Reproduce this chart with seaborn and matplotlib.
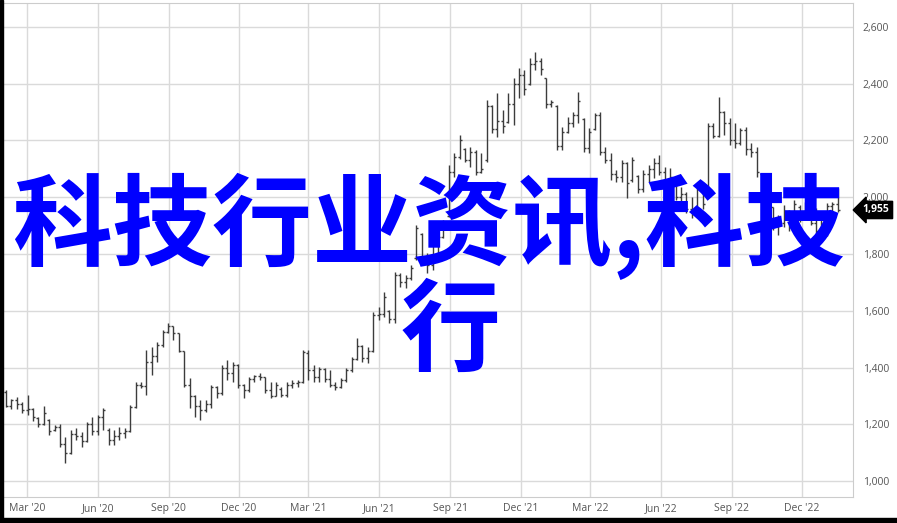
import matplotlib
matplotlib.use("Agg")
import matplotlib.pyplot as plt
import matplotlib.dates as mdates
from matplotlib.patches import Rectangle
import pandas as pd
import seaborn as sns

# weekly OHLC
start_week = "2020-02-03"
opens = [1315, 1265, 1285, 1270, 1250, 1255, 1222, 1200, 1215, 1180,
         1190, 1130, 1100, 1165, 1160, 1140, 1200, 1175, 1225, 1180,
         1145, 1160, 1170, 1175, 1260, 1340, 1335, 1420, 1440, 1480,
         1525, 1545, 1520, 1460, 1340, 1300, 1265, 1250, 1270, 1330,
         1310, 1400, 1380, 1410, 1340, 1320, 1360, 1370, 1365, 1320,
         1300, 1325, 1305, 1340, 1345, 1350, 1450, 1390, 1365, 1395,
         1360, 1340, 1330, 1355, 1390, 1430, 1475, 1435, 1460, 1585,
         1590, 1600, 1570, 1725, 1700, 1715, 1785, 1870, 1790, 1760,
         1840, 1860, 1935, 2090, 2140, 2170, 2130, 2160, 2090, 2130,
         2320, 2240, 2270, 2265, 2330, 2400, 2430, 2400, 2470, 2480,
         2420, 2330, 2320, 2180, 2230, 2260, 2290, 2275, 2175, 2240,
         2290, 2160, 2130, 2080, 2070, 2120, 2060, 2075, 2030, 2080,
         2100, 2120, 2090, 2040, 2065, 2000, 2010, 1960, 1960, 2030,
         2035, 2250, 2215, 2300, 2260, 2200, 2190, 2235, 2170, 2160,
         2080, 2025, 1965, 1900, 1910, 1950, 1905, 1965, 1950, 1960,
         1910, 1880, 1870, 1970, 1975]
highs = [1321, 1289, 1296, 1278, 1303, 1258, 1225, 1264, 1218, 1197,
         1201, 1155, 1180, 1187, 1173, 1208, 1226, 1233, 1257, 1187,
         1180, 1190, 1187, 1268, 1349, 1349, 1462, 1472, 1490, 1532,
         1557, 1548, 1522, 1460, 1363, 1303, 1285, 1285, 1338, 1335,
         1409, 1426, 1419, 1412, 1342, 1366, 1374, 1381, 1368, 1349,
         1349, 1331, 1349, 1356, 1356, 1462, 1462, 1409, 1402, 1398,
         1391, 1349, 1363, 1398, 1437, 1504, 1479, 1472, 1596, 1613,
         1666, 1603, 1737, 1733, 1726, 1761, 1902, 1874, 1803, 1849,
         1867, 1920, 2114, 2156, 2219, 2173, 2177, 2166, 2156, 2343,
         2325, 2367, 2307, 2367, 2420, 2455, 2448, 2491, 2512, 2491,
         2420, 2343, 2325, 2248, 2283, 2300, 2370, 2279, 2244, 2297,
         2300, 2177, 2156, 2096, 2131, 2124, 2142, 2078, 2096, 2114,
         2138, 2149, 2107, 2103, 2068, 2036, 2018, 2001, 2043, 2035,
         2262, 2262, 2353, 2305, 2279, 2262, 2244, 2248, 2191, 2177,
         2085, 2030, 1965, 1937, 1973, 1955, 1990, 1973, 1983, 1983,
         1962, 1944, 1980, 1983, 2033]
lows = [1261, 1254, 1254, 1240, 1233, 1211, 1190, 1198, 1162, 1175,
        1120, 1063, 1095, 1144, 1120, 1138, 1162, 1162, 1180, 1127,
        1127, 1144, 1152, 1172, 1257, 1328, 1303, 1374, 1419, 1472,
        1520, 1497, 1455, 1331, 1257, 1226, 1215, 1245, 1257, 1292,
        1305, 1356, 1349, 1328, 1292, 1315, 1349, 1356, 1310, 1292,
        1298, 1296, 1296, 1328, 1331, 1345, 1356, 1349, 1349, 1349,
        1331, 1321, 1328, 1350, 1385, 1425, 1419, 1416, 1455, 1567,
        1578, 1557, 1557, 1684, 1680, 1710, 1779, 1768, 1733, 1744,
        1803, 1855, 1930, 2071, 2135, 2124, 2107, 2078, 2085, 2124,
        2226, 2212, 2226, 2262, 2255, 2349, 2360, 2395, 2448, 2431,
        2314, 2318, 2166, 2166, 2226, 2248, 2262, 2159, 2156, 2237,
        2149, 2121, 2061, 2054, 2054, 1997, 2054, 2015, 2018, 2054,
        2068, 2078, 2018, 2033, 1990, 1980, 1944, 1927, 1955, 1960,
        2033, 2209, 2212, 2219, 2184, 2173, 2184, 2149, 2142, 2071,
        2025, 1955, 1885, 1867, 1895, 1880, 1895, 1913, 1925, 1902,
        1867, 1860, 1865, 1920, 1948]
closes = [1265, 1285, 1270, 1250, 1255, 1225, 1200, 1240, 1175, 1190,
          1130, 1100, 1165, 1160, 1140, 1200, 1175, 1225, 1250, 1145,
          1160, 1170, 1175, 1260, 1340, 1335, 1420, 1440, 1480, 1525,
          1545, 1520, 1460, 1340, 1300, 1265, 1250, 1270, 1330, 1310,
          1400, 1380, 1410, 1340, 1320, 1360, 1370, 1365, 1320, 1300,
          1340, 1305, 1340, 1345, 1350, 1455, 1390, 1365, 1395, 1360,
          1340, 1330, 1355, 1390, 1430, 1475, 1435, 1460, 1585, 1590,
          1650, 1570, 1725, 1700, 1715, 1750, 1890, 1790, 1760, 1840,
          1860, 1910, 2090, 2140, 2200, 2130, 2160, 2090, 2100, 2320,
          2240, 2270, 2250, 2330, 2400, 2430, 2380, 2470, 2480, 2450,
          2330, 2335, 2180, 2230, 2260, 2290, 2340, 2175, 2230, 2290,
          2160, 2130, 2080, 2070, 2120, 2050, 2130, 2030, 2080, 2100,
          2120, 2090, 2030, 2070, 2000, 2010, 1960, 1940, 2030, 1975,
          2250, 2215, 2300, 2260, 2200, 2190, 2235, 2170, 2160, 2090,
          2040, 1970, 1900, 1910, 1950, 1895, 1975, 1930, 1960, 1910,
          1880, 1870, 1970, 1975, 1955]

price_ticks = [1000, 1200, 1400, 1600, 1800, 2000, 2200, 2400, 2600]
last_label = "1,955"
overlay_line1 = "科技行业资讯,科技"
overlay_line2 = "行"

df = pd.DataFrame({
    "week": pd.date_range(start_week, periods=len(closes), freq="7D"),
    "open": opens, "high": highs, "low": lows, "close": closes,
})
x = mdates.date2num(df["week"])

sns.set_style("white")
plt.rcParams["font.family"] = ["Open Sans", "DejaVu Sans"]

fig = plt.figure(figsize=(8.97, 5.23), dpi=100)
ax = fig.add_axes([3 / 897, 26 / 523, 850 / 897, 494 / 523])

# OHLC bars
bar_color = "#3c3c3c"
ax.vlines(x, df["low"], df["high"], color=bar_color, lw=1, snap=True)
ax.hlines(df["open"], x - 2.6, x, color=bar_color, lw=1, snap=True)
ax.hlines(df["close"], x, x + 2.6, color=bar_color, lw=1, snap=True)

ax.set_xlim(mdates.datestr2num("2020-01-30"), mdates.datestr2num("2023-02-05"))
ax.set_ylim(944, 2684)

ax.grid(True, color="#dadada", lw=1)
ax.set_axisbelow(True)

ax.yaxis.tick_right()
ax.set_yticks(price_ticks)
ax.set_yticklabels([f"{v:,}" for v in price_ticks])
ax.tick_params(axis="y", length=0, pad=7, labelsize=7.5, labelcolor="#555555")

ax.xaxis.set_major_locator(mdates.MonthLocator(bymonth=(3, 6, 9, 12)))
ax.xaxis.set_major_formatter(mdates.DateFormatter("%b '%y"))
ax.tick_params(axis="x", length=4.5, color="#dadada", pad=0, labelsize=7.5,
               labelcolor="#555555")

for side in ["top", "right", "bottom"]:
    ax.spines[side].set_color("#cccccc")
ax.spines["left"].set_visible(False)

# last price tag
ax.annotate(last_label, xy=(1.0, closes[-1]), xycoords=("axes fraction", "data"),
            xytext=(7, 0), textcoords="offset points", ha="left", va="center",
            color="white", fontsize=7.5, fontweight="bold",
            bbox=dict(boxstyle="larrow,pad=0.3", fc="black", ec="black"),
            annotation_clip=False)

# big blue overlay text
cjk = ["Noto Sans CJK SC", "DejaVu Sans"]
fig.text(0.477, 0.568, overlay_line1, color="#0000ff", fontsize=72,
         fontweight="bold", family=cjk, ha="center", va="center")
fig.text(0.502, 0.362, overlay_line2, color="#0000ff", fontsize=72,
         fontweight="bold", family=cjk, ha="center", va="center")

# black frame edges of the screenshot
fig.add_artist(Rectangle((0, 0), 3 / 897, 1, transform=fig.transFigure,
                         color="black", zorder=10))
fig.add_artist(Rectangle((0, 0), 1, 5 / 523, transform=fig.transFigure,
                         color="black", zorder=10))

fig.savefig("out.png", dpi=100)
